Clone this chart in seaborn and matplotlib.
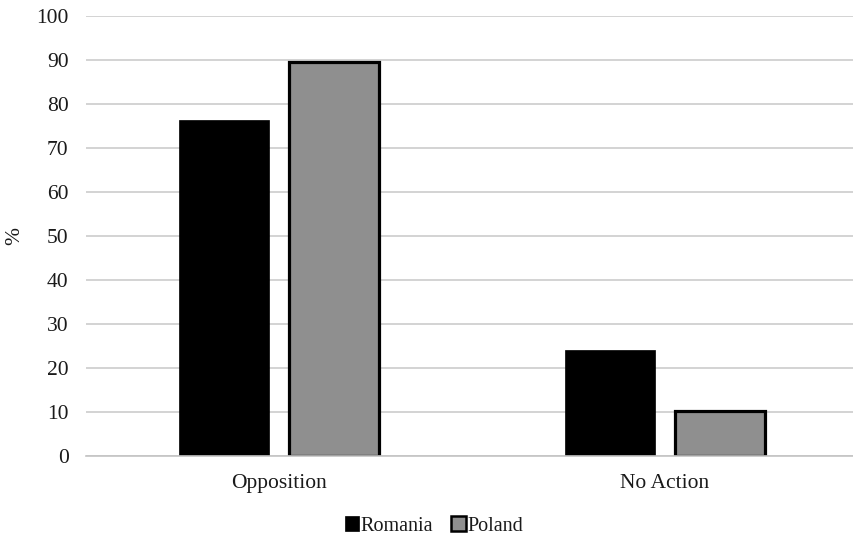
import matplotlib
matplotlib.use("Agg")
import matplotlib.pyplot as plt
from matplotlib.patches import Patch
import seaborn as sns
import pandas as pd

categories = ["Opposition", "No Action"]
countries = ["Romania", "Poland"]
romania = [76.4, 24.2]
poland = [89.6, 10.2]

df = pd.DataFrame({
    "category": categories * 2,
    "country": ["Romania"] * 2 + ["Poland"] * 2,
    "value": romania + poland,
})

sns.set_theme(style="white")
plt.rcParams["font.family"] = ["Liberation Serif", "DejaVu Serif"]

fig = plt.figure(figsize=(8.54, 5.39), dpi=100)
ax = fig.add_axes([86 / 854, 83 / 539, 772 / 854, 440 / 539])

palette = {"Romania": "#000000", "Poland": "#8f8f8f"}
sns.barplot(data=df, x="category", y="value", hue="country", order=categories,
            hue_order=countries, palette=palette, width=0.572, gap=0.186,
            saturation=1, ax=ax, legend=False)

# black outline on every bar; the grey bars get a heavier border
for patch in ax.patches:
    fc = patch.get_facecolor()
    patch.set_edgecolor("black")
    patch.set_linewidth(2.3 if fc[0] > 0.3 else 0.5)

ax.set_xlim(-0.5, 1.5)
ax.set_ylim(0, 100)
ax.set_yticks(range(0, 101, 10))
ax.yaxis.grid(True, color="#cccccc", linewidth=1.2)
ax.set_axisbelow(True)
for side in ["top", "right", "left"]:
    ax.spines[side].set_visible(False)
ax.spines["bottom"].set_color("#c4c4c4")
ax.spines["bottom"].set_linewidth(1.2)
ax.tick_params(axis="both", length=0, labelsize=15.5, colors="#1a1a1a")
ax.tick_params(axis="y", pad=12.5)
ax.tick_params(axis="x", pad=13)
ax.set_xlabel("")
ax.set_ylabel("%", fontsize=15.5, color="#1a1a1a")
ax.yaxis.set_label_coords(-62 / 772, 0.5)

handles = [
    Patch(facecolor="#000000", edgecolor="#000000", linewidth=0.5, label="Romania"),
    Patch(facecolor="#8f8f8f", edgecolor="#000000", linewidth=1.8, label="Poland"),
]
fig.legend(handles=handles, loc="center", bbox_to_anchor=(434 / 854, 1 - 526 / 539),
           ncol=2, frameon=False, fontsize=14.5, handlelength=0.7, handleheight=0.7,
           handletextpad=0.1, columnspacing=0.9, labelcolor="#1a1a1a")

fig.savefig("out.png", dpi=100)
